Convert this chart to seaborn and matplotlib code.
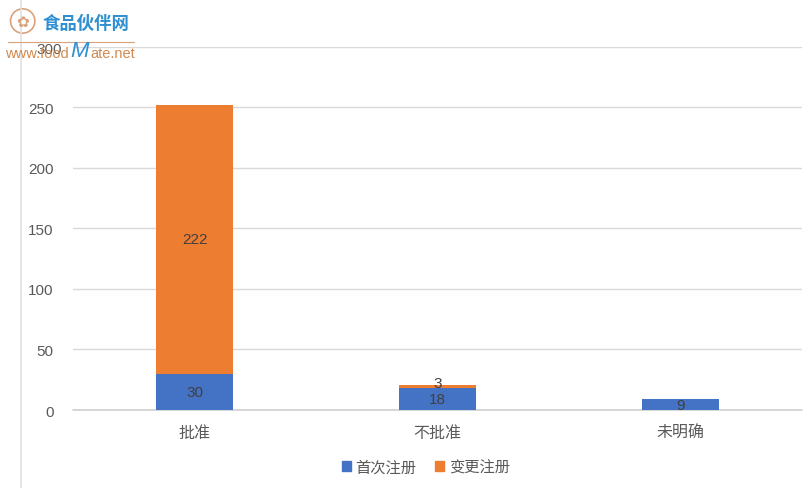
import matplotlib
matplotlib.use("Agg")
import matplotlib.pyplot as plt
import seaborn as sns
import pandas as pd
from matplotlib.patches import Patch, Ellipse
from matplotlib.lines import Line2D

# data
categories = ["批准", "不批准", "未明确"]
first_reg = [30, 18, 9]       # 首次注册
change_reg = [222, 3, 0]      # 变更注册
series_names = ["首次注册", "变更注册"]
y_ticks = [0, 50, 100, 150, 200, 250, 300]

BLUE = "#4472C4"
ORANGE = "#ED7D31"

sns.set_theme(style="white")
plt.rcParams["font.family"] = ["Liberation Sans", "Noto Sans CJK SC", "DejaVu Sans"]

df = pd.DataFrame({"cat": categories, "first": first_reg, "change": change_reg})
df["total"] = df["first"] + df["change"]

fig = plt.figure(figsize=(8.11, 4.89), dpi=100)
ax = fig.add_axes([0.09, 0.1595, 0.899, 0.7425])

# stacked bars: total (orange) underneath, first registration (blue) over it
sns.barplot(data=df, x="cat", y="total", color=ORANGE, width=0.32,
            saturation=1, linewidth=0, ax=ax, zorder=3)
sns.barplot(data=df, x="cat", y="first", color=BLUE, width=0.32,
            saturation=1, linewidth=0, ax=ax, zorder=4)

# value labels
for i, row in df.iterrows():
    ax.text(i, row["first"] / 2, str(row["first"]), ha="center", va="center",
            fontsize=11, color="#404040", zorder=5)
    if row["change"] > 0:
        ax.text(i, row["first"] + row["change"] / 2 + (0 if row["change"] > 20 else 2.5),
                str(row["change"]), ha="center", va="center",
                fontsize=11, color="#404040", zorder=5)

ax.set_ylim(0, 300)
ax.set_xlim(-0.5, 2.5)
ax.set_yticks(y_ticks)
ax.yaxis.grid(True, color="#d9d9d9", linewidth=1)
ax.axhline(0, color="#d0d0d0", linewidth=1.2, zorder=2, clip_on=False)
ax.set_axisbelow(True)
for s in ax.spines.values():
    s.set_visible(False)
ax.set_xlabel("")
ax.set_ylabel("")
ax.tick_params(axis="y", labelsize=11, labelcolor="#595959", length=0, pad=14)
ax.tick_params(axis="x", labelsize=11.5, labelcolor="#595959", length=0, pad=10)
for lab in ax.get_xticklabels():
    lab.set_family(["Noto Sans CJK SC"])

handles = [Patch(color=BLUE), Patch(color=ORANGE)]
leg = fig.legend(handles, series_names, loc="center", bbox_to_anchor=(0.525, 0.043),
                 ncol=2, frameon=False, fontsize=11, handlelength=0.6, handleheight=0.6,
                 handletextpad=0.3, columnspacing=1.2, labelcolor="#595959",
                 prop={"family": ["Noto Sans CJK SC"], "size": 11})

# chart area border on the left
fig.add_artist(Line2D([0.026, 0.026], [0, 1], transform=fig.transFigure,
                      color="#e0e0e0", linewidth=1.2))

# watermark
fig.add_artist(Ellipse((0.028, 0.955), width=0.03, height=0.03 * 811 / 489,
                       transform=fig.transFigure, fill=False,
                       edgecolor="#d9a27a", linewidth=1.2))
fig.text(0.028, 0.955, "✿", ha="center", va="center", fontsize=11,
         color="#d9a27a", family=["DejaVu Sans"])
fig.text(0.052, 0.952, "食品伙伴网", ha="left", va="center", fontsize=12.5,
         color="#2f8fd0", fontweight="bold", family=["Noto Sans CJK SC"])
fig.add_artist(Line2D([0.01, 0.165], [0.912, 0.912], transform=fig.transFigure,
                      color="#d9a27a", linewidth=0.8))
fig.text(0.045, 0.898, "300", ha="left", va="center", fontsize=11, color="#595959")
fig.text(0.006, 0.89, "www.food", ha="left", va="center", fontsize=10.5,
         color="#d08a50")
fig.text(0.087, 0.894, "M", ha="left", va="center", fontsize=16,
         color="#2f8fd0", style="italic")
fig.text(0.111, 0.89, "ate.net", ha="left", va="center", fontsize=10.5,
         color="#d08a50")

# the 300 tick label is drawn with the watermark above
ax.set_yticklabels(["0", "50", "100", "150", "200", "250", ""])

fig.savefig("out.png", dpi=100, facecolor="white")
